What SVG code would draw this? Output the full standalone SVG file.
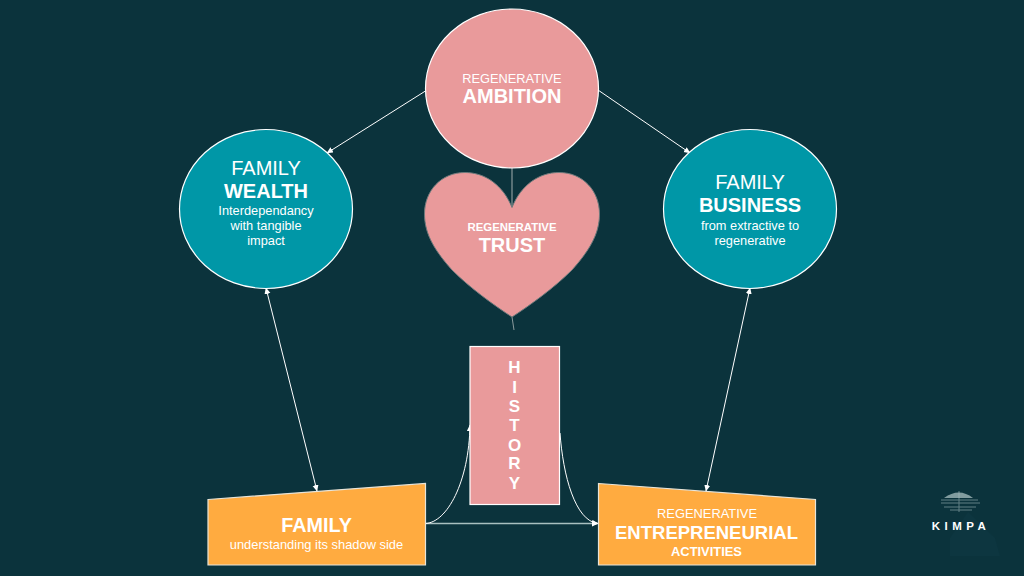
<svg xmlns="http://www.w3.org/2000/svg" width="1024" height="576" viewBox="0 0 1024 576">
<style>
text{font-family:"Liberation Sans",Arial,sans-serif;fill:#fff;text-anchor:middle}
.b{font-weight:700}
.pink{fill:#e99a9b;stroke:#fff;stroke-width:1.2}
.teal{fill:#0097a7;stroke:#fff;stroke-width:1.2}
.orange{fill:#ffab40;stroke:#e8e4d8;stroke-width:1.2}
.c{fill:none;stroke:#fff;stroke-width:1}
.h{font-size:17px;font-weight:700}
</style>
<defs>
<marker id="a" markerWidth="7" markerHeight="7" refX="6" refY="3" orient="auto-start-reverse" markerUnits="userSpaceOnUse"><path d="M0 0L6.500 3L0 6Z" fill="#fff"/></marker>
</defs>
<rect width="1024" height="576" fill="#0b333c"/>
<g id="connectors">
<line class="c" x1="427" y1="90" x2="327" y2="153" marker-end="url(#a)"/>
<line class="c" x1="598" y1="90" x2="690" y2="153" marker-end="url(#a)"/>
<line x1="512" y1="168" x2="512" y2="208" stroke="#8a9a9c" stroke-width="1.200"/>
<line x1="512" y1="317" x2="514" y2="330" stroke="#8a9a9c" stroke-width="1"/>
<line class="c" x1="266" y1="288" x2="317" y2="491" marker-start="url(#a)" marker-end="url(#a)"/>
<line class="c" x1="750" y1="288" x2="706" y2="491" marker-start="url(#a)" marker-end="url(#a)"/>
<line x1="425" y1="523.500" x2="598" y2="523.500" stroke="#a9c0c0" stroke-width="1.400" marker-end="url(#a)"/>
<path class="c" d="M425 523.500C447 523 469 482 470 425" marker-end="url(#a)"/>
<path class="c" d="M560 433C563 475 575 521 598 523.500" marker-end="url(#a)"/>
</g>
<g id="ambition">
<ellipse class="pink" cx="512" cy="88.500" rx="86.500" ry="79.500"/>
<text x="512" y="83" font-size="12.800">REGENERATIVE</text>
<text x="512" y="103" font-size="20" class="b">AMBITION</text>
</g>
<g id="wealth">
<ellipse class="teal" cx="266" cy="209" rx="86.500" ry="79.500"/>
<text x="266" y="174.500" font-size="20">FAMILY</text>
<text x="266" y="197.500" font-size="20" class="b">WEALTH</text>
<text x="266" y="215" font-size="12.800">Interdependancy</text>
<text x="266" y="230" font-size="12.800">with tangible</text>
<text x="266" y="245" font-size="12.800">impact</text>
</g>
<g id="business">
<ellipse class="teal" cx="750" cy="209" rx="86.500" ry="79.500"/>
<text x="750" y="189" font-size="20">FAMILY</text>
<text x="750" y="212" font-size="20" class="b">BUSINESS</text>
<text x="750" y="230" font-size="12.800">from extractive to</text>
<text x="750" y="245" font-size="12.800">regenerative</text>
</g>
<g id="trust">
<path d="M512 207.500C503 185 485 172.500 465 172.500C441 172.500 424.500 191 424.500 214C424.500 235 436 252 452 270C470 288 495 306 512 317C529 306 554 288 572 270C588 252 599.500 235 599.500 214C599.500 191 583 172.500 559 172.500C539 172.500 521 185 512 207.500Z" fill="#e99a9b" stroke="#6f7a7c" stroke-width="1"/>
<text x="512" y="231" font-size="11.400" class="b">REGENERATIVE</text>
<text x="512" y="252" font-size="20" class="b">TRUST</text>
</g>
<g id="history">
<rect class="pink" x="470" y="346.500" width="89.500" height="158"/>
<text class="h" x="514.500" y="373">H</text>
<text class="h" x="514.500" y="393">I</text>
<text class="h" x="514.500" y="412">S</text>
<text class="h" x="514.500" y="431">T</text>
<text class="h" x="514.500" y="450.500">O</text>
<text class="h" x="514.500" y="469">R</text>
<text class="h" x="514.500" y="489">Y</text>
</g>
<g id="family">
<path class="orange" d="M208 499.500L425.500 483.500V565H208Z"/>
<text x="316.500" y="532" font-size="19.800" class="b">FAMILY</text>
<text x="316.500" y="549" font-size="12.900">understanding its shadow side</text>
</g>
<g id="entrepreneurial">
<path class="orange" d="M598.500 483.500L815.500 499.500V565H598.500Z"/>
<text x="707" y="518" font-size="12.900">REGENERATIVE</text>
<text x="706.500" y="539" font-size="18.500" class="b">ENTREPRENEURIAL</text>
<text x="706.500" y="555.500" font-size="12.900" class="b">ACTIVITIES</text>
</g>
<g id="logo">
<path d="M944 498Q959 487 973 498Z" fill="#a9c0c0" opacity=".75"/>
<g stroke="#a9c0c0" stroke-width="1" opacity=".55">
<line x1="941" y1="500" x2="978" y2="500"/>
<line x1="941" y1="503" x2="980" y2="503"/>
<line x1="944" y1="507" x2="976" y2="507"/>
<line x1="950" y1="510" x2="972" y2="510"/>
<line x1="959" y1="491" x2="959" y2="512"/>
</g>
<path d="M950 538L968 512L995 538L1000 556H950Z" fill="#0d3640"/>
<text x="961" y="530" font-size="11.500" font-weight="700" letter-spacing="4.500">KIMPA</text>
</g>
</svg>
